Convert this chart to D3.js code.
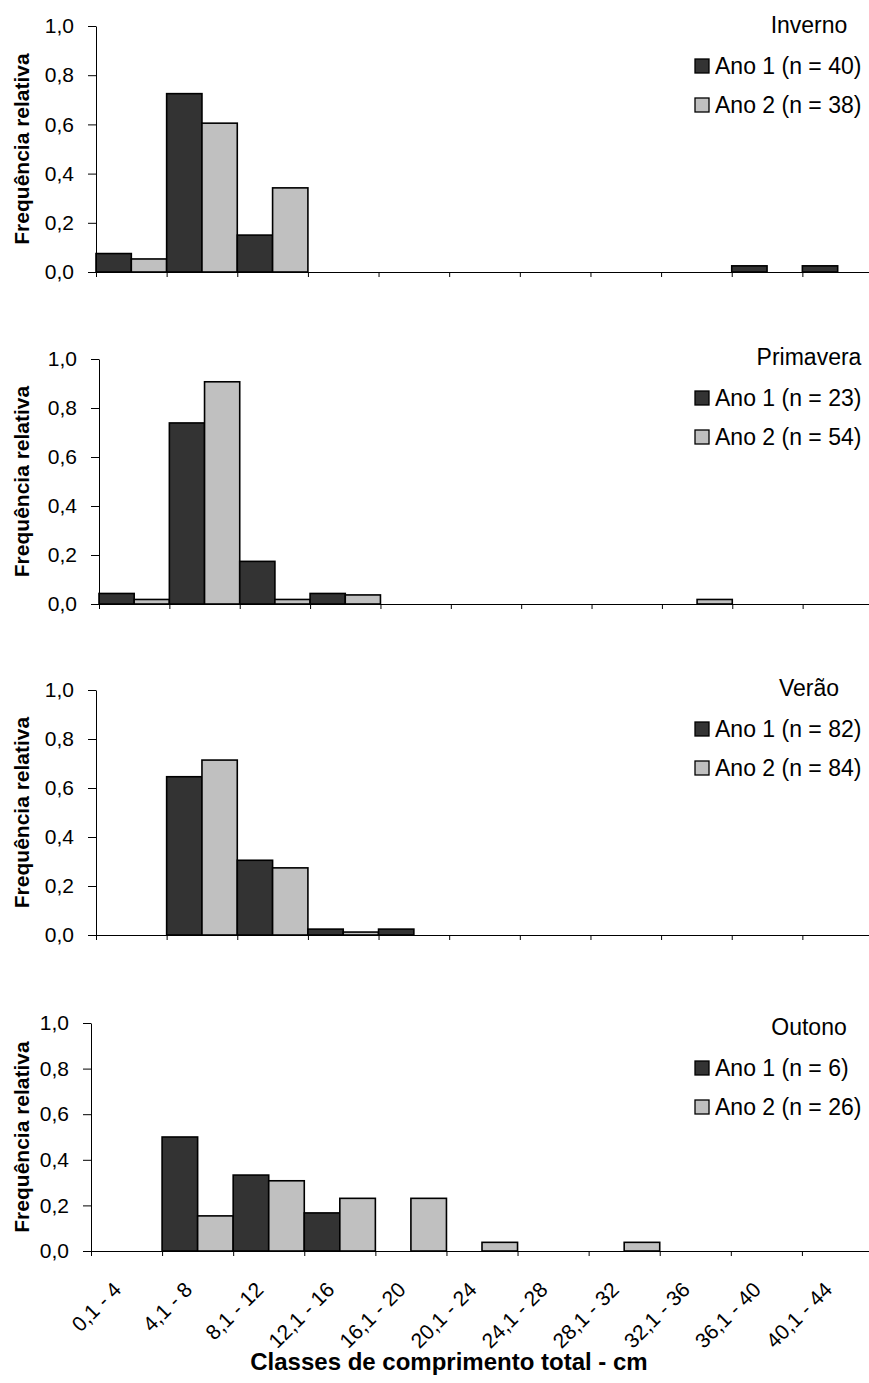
<!DOCTYPE html>
<html>
<head>
<meta charset="utf-8">
<script src="https://cdn.jsdelivr.net/npm/d3@7"></script>
<style>
  body { margin: 0; background: #fff; }
  svg { display: block; font-family: Arial, 'Liberation Sans', sans-serif; }
</style>
</head>
<body>
<script>
// Length classes (cm)
const categories = ['0,1 - 4', '4,1 - 8', '8,1 - 12', '12,1 - 16', '16,1 - 20', '20,1 - 24',
  '24,1 - 28', '28,1 - 32', '32,1 - 36', '36,1 - 40', '40,1 - 44'];

const seasons = ['Inverno', 'Primavera', 'Verão', 'Outono'];
const nAno1 = [40, 23, 82, 6];
const nAno2 = [38, 54, 84, 26];

// Relative frequencies per season and year
const inverno1 = [0.075, 0.725, 0.15, 0, 0, 0, 0, 0, 0, 0.025, 0.025];
const inverno2 = [0.053, 0.605, 0.342, 0, 0, 0, 0, 0, 0, 0, 0];
const primavera1 = [0.043, 0.739, 0.174, 0.043, 0, 0, 0, 0, 0, 0, 0];
const primavera2 = [0.0185, 0.907, 0.0185, 0.037, 0, 0, 0, 0, 0.0185, 0, 0];
const verao1 = [0, 0.646, 0.305, 0.024, 0.024, 0, 0, 0, 0, 0, 0];
const verao2 = [0, 0.714, 0.274, 0.012, 0, 0, 0, 0, 0, 0, 0];
const outono1 = [0, 0.5, 0.333, 0.167, 0, 0, 0, 0, 0, 0, 0];
const outono2 = [0, 0.154, 0.308, 0.231, 0.231, 0.038, 0, 0.038, 0, 0, 0];

const yTicks = [0, 0.2, 0.4, 0.6, 0.8, 1.0];

const W = 869, H = 1383;
const dark = '#333333', light = '#c0c0c0';

// Panel geometry
const panels = [
  { a1: inverno1, a2: inverno2, left: 96, top: 26, bottom: 272, legTop: 7 },
  { a1: primavera1, a2: primavera2, left: 99, top: 359, bottom: 604, legTop: 6 },
  { a1: verao1, a2: verao2, left: 96, top: 690, bottom: 935, legTop: 6 },
  { a1: outono1, a2: outono2, left: 91, top: 1023, bottom: 1251, legTop: 12 }
];
const right = 873;

const svg = d3.select('body').append('svg')
  .attr('width', W)
  .attr('height', H);

const fmt = d => d3.format('.1f')(d).replace('.', ',');

panels.forEach((p, pi) => {
  const x = d3.scaleBand().domain(categories).range([p.left, right]).padding(0);
  const sub = d3.scaleBand().domain(['a1', 'a2']).range([0, x.bandwidth()]).padding(0);
  const y = d3.scaleLinear().domain([0, 1]).range([p.bottom, p.top]);
  const xEdges = d3.scaleLinear().domain([0, categories.length]).range([p.left, right]);

  const g = svg.append('g');

  // bars
  const rows = [];
  categories.forEach((c, i) => {
    rows.push({ c, s: 'a1', v: p.a1[i] });
    rows.push({ c, s: 'a2', v: p.a2[i] });
  });
  g.selectAll('rect.bar')
    .data(rows.filter(d => d.v > 0))
    .enter()
    .append('rect')
    .attr('class', 'bar')
    .attr('x', d => x(d.c) + sub(d.s))
    .attr('y', d => y(d.v))
    .attr('width', sub.bandwidth())
    .attr('height', d => y(0) - y(d.v))
    .attr('fill', d => d.s === 'a1' ? dark : light)
    .attr('stroke', '#000')
    .attr('stroke-width', 1.6);

  // y axis
  const yAxis = g.append('g')
    .attr('transform', `translate(${p.left},0)`)
    .call(d3.axisLeft(y).tickValues(yTicks).tickSize(8).tickSizeOuter(0)
      .tickPadding(14).tickFormat(fmt));
  yAxis.selectAll('text').attr('font-size', 21).attr('fill', '#000')
    .attr('font-family', 'Arial, Liberation Sans, sans-serif');
  yAxis.selectAll('path, line').attr('stroke', '#000');

  // x axis, ticks on class edges
  const xAxis = g.append('g')
    .attr('transform', `translate(0,${p.bottom})`)
    .call(d3.axisBottom(xEdges).tickValues(d3.range(categories.length + 1))
      .tickSize(5).tickSizeOuter(0).tickFormat(''));
  xAxis.selectAll('path, line').attr('stroke', '#000');

  // y title
  g.append('text')
    .attr('transform', `translate(29,${(p.top + p.bottom) / 2}) rotate(-90)`)
    .attr('text-anchor', 'middle')
    .attr('font-size', 21)
    .attr('font-weight', 'bold')
    .text('Frequência relativa');

  // season title and legend
  g.append('text')
    .attr('x', 809)
    .attr('y', p.top + p.legTop)
    .attr('text-anchor', 'middle')
    .attr('font-size', 23)
    .text(seasons[pi]);

  const leg = [
    { label: `Ano 1 (n = ${nAno1[pi]})`, fill: dark },
    { label: `Ano 2 (n = ${nAno2[pi]})`, fill: light }
  ];
  leg.forEach((l, li) => {
    const cy = p.top + p.legTop + 33 + li * 39;
    g.append('rect')
      .attr('x', 695).attr('y', cy - 7)
      .attr('width', 14).attr('height', 14)
      .attr('fill', l.fill).attr('stroke', '#000').attr('stroke-width', 1.3);
    g.append('text')
      .attr('x', 715).attr('y', cy + 8)
      .attr('font-size', 23)
      .text(l.label);
  });

  // class labels only under the last panel
  if (pi === panels.length - 1) {
    g.selectAll('text.cat')
      .data(categories)
      .enter()
      .append('text')
      .attr('class', 'cat')
      .attr('transform', d => `translate(${x(d) + x.bandwidth() / 2 - 4},${p.bottom + 40}) rotate(-45)`)
      .attr('text-anchor', 'end')
      .attr('font-size', 21)
      .text(d => d);

    g.append('text')
      .attr('x', 449)
      .attr('y', 1370)
      .attr('text-anchor', 'middle')
      .attr('font-size', 24)
      .attr('font-weight', 'bold')
      .text('Classes de comprimento total - cm');
  }
});
</script>
</body>
</html>
